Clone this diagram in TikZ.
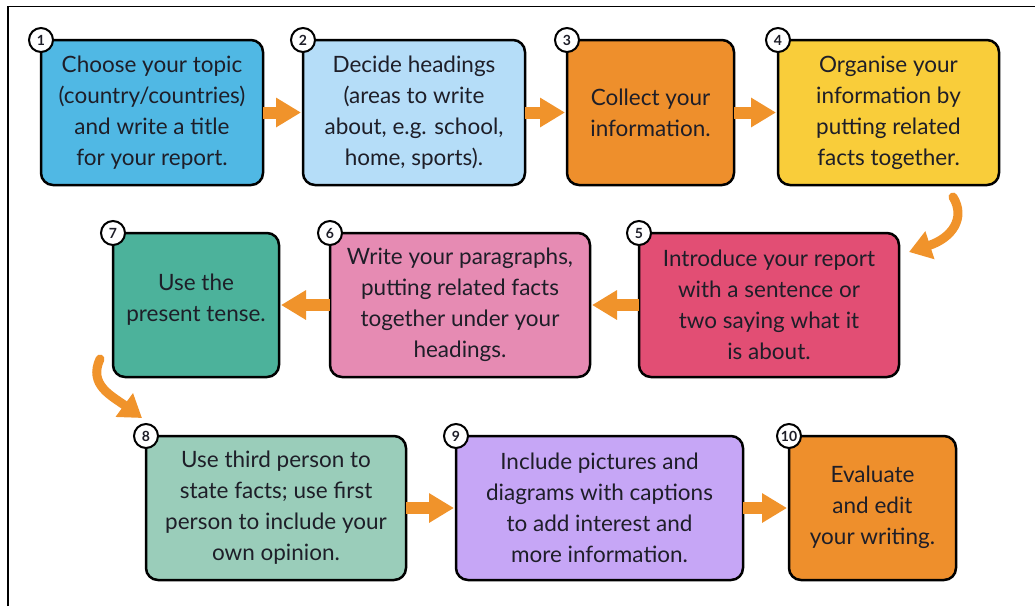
\documentclass[tikz,border=0pt]{standalone}
\usepackage{fontspec}
\setmainfont{Lato}
\usetikzlibrary{arrows.meta}
\definecolor{cone}{HTML}{50B8E4}
\definecolor{ctwo}{HTML}{B5DDF8}
\definecolor{cthree}{HTML}{EE8F2C}
\definecolor{cfour}{HTML}{F9CD3A}
\definecolor{cfive}{HTML}{E24E74}
\definecolor{csix}{HTML}{E68BB3}
\definecolor{cseven}{HTML}{4CB29B}
\definecolor{ceight}{HTML}{9ACDBA}
\definecolor{cnine}{HTML}{C6A6F6}
\definecolor{cten}{HTML}{EE8F2C}
\definecolor{arroworange}{HTML}{F0932B}
\definecolor{txt}{HTML}{1E1E28}
\begin{document}
\begin{tikzpicture}[x=1pt,y=-1pt,
  stepbox/.style={draw=black, line width=2.5pt, rounded corners=12pt, inner sep=0pt, outer sep=0pt,
    align=center, text=txt, font=\fontsize{22.5}{31}\selectfont},
  numcirc/.style={circle, draw=black, line width=2pt, fill=white, minimum size=24pt, inner sep=0pt,
    text=txt, font=\fontsize{14}{14}\selectfont\bfseries},
  blockarrow/.style={draw=arroworange, line width=12pt, -{Triangle[length=25pt,width=28pt]}, shorten >=2pt},
  curvearrow/.style={draw=arroworange, line width=9pt, line cap=round, -{Triangle[length=22pt,width=28pt]}}]
\useasboundingbox (0,0) rectangle (1035,606);
\draw[line width=1.5pt] (8,606) -- (8,6.5) -- (1035,6.5);

% row 1
\node[stepbox, fill=cone, minimum width=222pt, minimum height=145pt] (b1) at (152,112.5)
  {Choose your topic\\(country/countries)\\and write a title\\for your report.};
\node[stepbox, fill=ctwo, minimum width=222pt, minimum height=145pt] (b2) at (414,112.5)
  {Decide headings\\(areas to write\\about, e.g. school,\\home, sports).};
\node[stepbox, fill=cthree, minimum width=167pt, minimum height=145pt] (b3) at (650.5,112.5)
  {Collect your\\information.};
\node[stepbox, fill=cfour, minimum width=221pt, minimum height=145pt] (b4) at (888.5,112.5)
  {Organise your\\information by\\putting related\\facts together.};
% row 2
\node[stepbox, fill=cfive, minimum width=260pt, minimum height=144pt] (b5) at (769,305)
  {Introduce your report\\with a sentence or\\two saying what it\\is about.};
\node[stepbox, fill=csix, minimum width=260pt, minimum height=144pt] (b6) at (460,305)
  {Write your paragraphs,\\putting related facts\\together under your\\headings.};
\node[stepbox, fill=cseven, minimum width=166pt, minimum height=144pt] (b7) at (196,305)
  {Use the\\present tense.\\[-16pt]};
% row 3
\node[stepbox, fill=ceight, minimum width=260pt, minimum height=144pt] (b8) at (276,508)
  {Use third person to\\state facts; use first\\person to include your\\own opinion.};
\node[stepbox, fill=cnine, minimum width=287pt, minimum height=144pt] (b9) at (599.5,508)
  {Include pictures and\\diagrams with captions\\to add interest and\\more information.};
\node[stepbox, fill=cten, minimum width=167pt, minimum height=144pt] (b10) at (872.5,508)
  {Evaluate\\and edit\\your writing.\\[-25pt]};

% numbers
\foreach \i in {1,...,10} {
  \node[numcirc] (n\i) at (b\i.north west) {\i};
}

% straight arrows
\draw[blockarrow] (b1.east) -- (b2.west);
\draw[blockarrow] (b2.east) -- (b3.west);
\draw[blockarrow] (b3.east) -- (b4.west);
\draw[blockarrow] (b5.west) -- (b6.east);
\draw[blockarrow] (b6.west) -- (b7.east);
\draw[blockarrow] (b8.east) -- (b9.west);
\draw[blockarrow] (b9.east) -- (b10.west);

% curved arrows
\coordinate (c45s) at (953,197);
\coordinate (c45e) at (909,252);
\draw[curvearrow] (c45s) .. controls (966,218) and (952,238) .. (c45e);
\coordinate (c78s) at (100,359);
\coordinate (c78e) at (142,418);
\draw[curvearrow] (c78s) .. controls (88,385) and (112,396) .. (c78e);
\end{tikzpicture}
\end{document}
